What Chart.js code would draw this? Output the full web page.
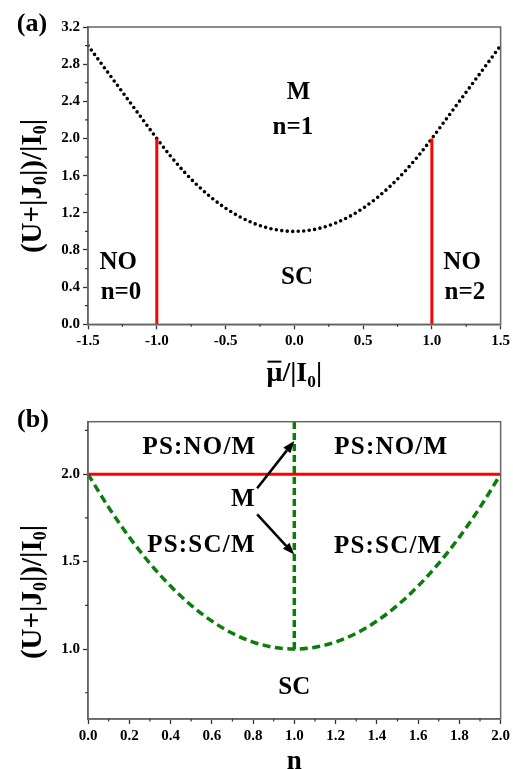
<!DOCTYPE html>
<html>
<head>
<meta charset="utf-8">
<script src="https://cdn.jsdelivr.net/npm/chart.js@4/dist/chart.umd.min.js"></script>
<style>
  html, body { margin: 0; padding: 0; background: #fff; }
  #wrap { position: relative; width: 513px; height: 769px; overflow: hidden; }
  #boxA { position: absolute; left: 0; top: 0; width: 513px; height: 400px; }
  #boxB { position: absolute; left: 0; top: 400px; width: 513px; height: 369px; }
</style>
</head>
<body>
<div id="wrap">
  <div id="boxA"><canvas id="chartA"></canvas></div>
  <div id="boxB"><canvas id="chartB"></canvas></div>
</div>
<script>
// ---- panel (a): boundary vs mu ----
const muA = [-1.5,-1.4,-1.3,-1.2,-1.1,-1.0,-0.9,-0.8,-0.7,-0.6,-0.5,-0.4,-0.3,-0.2,-0.1,0,
	0.1,0.2,0.3,0.4,0.5,0.6,0.7,0.8,0.9,1.0,1.1,1.2,1.3,1.4,1.5];
const boundaryA = [3.00,2.80,2.60,2.40,2.20,2.00,1.81,1.64,1.49,1.36,1.25,1.16,1.09,1.04,1.01,1.00,
	1.01,1.04,1.09,1.16,1.25,1.36,1.49,1.64,1.81,2.00,2.20,2.40,2.60,2.80,3.00];
const redLeftX = [-1, -1];
const redRightX = [1, 1];
const redAY = [0, 2];

const xTicksA = [-1.5, -1.0, -0.5, 0, 0.5, 1.0, 1.5];
const xMinorA = [-1.25, -0.75, -0.25, 0.25, 0.75, 1.25];
const yTicksA = [0, 0.4, 0.8, 1.2, 1.6, 2.0, 2.4, 2.8, 3.2];
const yMinorA = [0.2, 0.6, 1.0, 1.4, 1.8, 2.2, 2.6, 3.0];

// ---- panel (b): boundary vs n ----
const nB = [0,0.1,0.2,0.3,0.4,0.5,0.6,0.7,0.8,0.9,1.0,1.1,1.2,1.3,1.4,1.5,1.6,1.7,1.8,1.9,2.0];
const boundaryB = [2.00,1.81,1.64,1.49,1.36,1.25,1.16,1.09,1.04,1.01,1.00,1.01,1.04,1.09,1.16,1.25,1.36,1.49,1.64,1.81,2.00];
const redBX = [0, 2];
const redBY = [2, 2];
const greenVX = [1, 1];
const greenVY = [1.0, 2.3];

const xTicksB = [0, 0.2, 0.4, 0.6, 0.8, 1.0, 1.2, 1.4, 1.6, 1.8, 2.0];
const xMinorB = [0.1, 0.3, 0.5, 0.7, 0.9, 1.1, 1.3, 1.5, 1.7, 1.9];
const yTicksB = [1.0, 1.5, 2.0];
const yMinorB = [0.75, 1.25, 1.75, 2.25];

// region labels (text, x, y in data units)
const labelsA = [
	['M', 0.03, 2.49], ['n=1', -0.01, 2.12],
	['NO', -1.28, 0.67], ['n=0', -1.26, 0.34],
	['SC', 0.02, 0.50],
	['NO', 1.22, 0.67], ['n=2', 1.24, 0.34]
];
const labelsB = [
	['PS:NO/M', 0.54, 2.155], ['PS:NO/M', 1.47, 2.15],
	['M', 0.75, 1.853],
	['PS:SC/M', 0.55, 1.59], ['PS:SC/M', 1.455, 1.585],
	['SC', 1.0, 0.78]
];
const arrowsB = [
	[0.82, 1.92, 1.0, 2.19],
	[0.82, 1.77, 1.0, 1.54]
];

const FONT = '"Liberation Serif", "Times New Roman", serif';

function pts(xs, ys) {
	return xs.map(function (x, i) { return { x: x, y: ys[i] }; });
}

function drawRich(ctx, parts, cx, cy, size, angle) {
	ctx.save();
	ctx.translate(cx, cy);
	ctx.rotate(angle);
	ctx.fillStyle = '#000';
	ctx.textBaseline = 'alphabetic';
	ctx.textAlign = 'left';
	let total = 0;
	parts.forEach(function (p) {
		ctx.font = 'bold ' + (p.sub ? size * 0.62 : size) + 'px ' + FONT;
		p.w = ctx.measureText(p.t).width;
		total += p.w;
	});
	let x = -total / 2;
	const base = size * 0.33;
	parts.forEach(function (p) {
		ctx.font = 'bold ' + (p.sub ? size * 0.62 : size) + 'px ' + FONT;
		ctx.fillText(p.t, x, p.sub ? base + size * 0.2 : base);
		if (p.bar) {
			ctx.strokeStyle = '#000';
			ctx.lineWidth = 2;
			ctx.beginPath();
			ctx.moveTo(x + 1, base - size * 0.7);
			ctx.lineTo(x + p.w - 1, base - size * 0.7);
			ctx.stroke();
		}
		x += p.w;
	});
	ctx.restore();
}

const decor = {
	id: 'decor',
	afterDraw: function (chart, args, o) {
		const ctx = chart.ctx;
		const a = chart.chartArea;
		const xs = chart.scales.x, ys = chart.scales.y;
		ctx.save();
		// frame
		ctx.strokeStyle = '#666';
		ctx.lineWidth = 1.5;
		ctx.strokeRect(a.left, a.top, a.right - a.left, a.bottom - a.top);
		// minor ticks
		ctx.strokeStyle = '#333';
		ctx.lineWidth = 1.2;
		ctx.beginPath();
		o.xMinor.forEach(function (v) {
			const p = xs.getPixelForValue(v);
			ctx.moveTo(p, a.bottom); ctx.lineTo(p, a.bottom + 2.5);
		});
		o.yMinor.forEach(function (v) {
			const p = ys.getPixelForValue(v);
			ctx.moveTo(a.left, p); ctx.lineTo(a.left - 3, p);
		});
		ctx.stroke();
		// region labels
		ctx.fillStyle = '#000';
		ctx.textAlign = 'center';
		ctx.textBaseline = 'middle';
		ctx.font = 'bold ' + o.labelSize + 'px ' + FONT;
		o.labels.forEach(function (l) {
			if ('letterSpacing' in ctx) ctx.letterSpacing = (l[0].length > 3 ? o.spacing : 0) + 'px';
			ctx.fillText(l[0], xs.getPixelForValue(l[1]), ys.getPixelForValue(l[2]));
		});
		if ('letterSpacing' in ctx) ctx.letterSpacing = '0px';
		// arrows
		(o.arrows || []).forEach(function (r) {
			const x0 = xs.getPixelForValue(r[0]), y0 = ys.getPixelForValue(r[1]);
			const x1 = xs.getPixelForValue(r[2]), y1 = ys.getPixelForValue(r[3]);
			const ang = Math.atan2(y1 - y0, x1 - x0);
			const hl = 12, hw = 4.5;
			const bx = x1 - hl * Math.cos(ang), by = y1 - hl * Math.sin(ang);
			ctx.strokeStyle = '#000';
			ctx.lineWidth = 2.5;
			ctx.beginPath();
			ctx.moveTo(x0, y0); ctx.lineTo(bx, by);
			ctx.stroke();
			ctx.beginPath();
			ctx.moveTo(x1, y1);
			ctx.lineTo(bx + hw * Math.sin(ang), by - hw * Math.cos(ang));
			ctx.lineTo(bx - hw * Math.sin(ang), by + hw * Math.cos(ang));
			ctx.closePath();
			ctx.fillStyle = '#000';
			ctx.fill();
		});
		// panel tag
		ctx.font = 'bold 26px ' + FONT;
		ctx.textAlign = 'center';
		ctx.textBaseline = 'middle';
		ctx.fillText(o.tag, o.tagX, o.tagY);
		// axis titles
		drawRich(ctx, [{ t: '(U+|J' }, { t: '0', sub: true }, { t: '|)/|I' }, { t: '0', sub: true }, { t: '|' }],
			31, o.yTitleY, 29, -Math.PI / 2);
		drawRich(ctx, o.xTitle, (a.left + a.right) / 2, o.xTitleY, o.xTitleSize, 0);
		ctx.restore();
	}
};

function axis(min, max, ticks, fit) {
	return {
		type: 'linear',
		min: min,
		max: max,
		afterBuildTicks: function (s) { s.ticks = ticks.map(function (v) { return { value: v }; }); },
		afterFit: fit,
		ticks: {
			color: '#000',
			font: { family: FONT, size: 15, weight: 'bold' },
			padding: 3,
			autoSkip: false,
			maxRotation: 0,
			callback: function (v) { return Number(v).toFixed(1); }
		},
		grid: { drawOnChartArea: false, tickLength: 5, tickColor: '#333', tickWidth: 1.3 },
		border: { color: '#666', width: 1.5 }
	};
}

Chart.defaults.animation = false;

new Chart(document.getElementById('chartA'), {
	type: 'line',
	data: {
		datasets: [
			{ data: pts(redLeftX, redAY), borderColor: '#ff0000', borderWidth: 3, pointRadius: 0 },
			{ data: pts(redRightX, redAY), borderColor: '#ff0000', borderWidth: 3, pointRadius: 0 },
			{ data: pts(muA, boundaryA), borderColor: '#000', borderWidth: 3.6, pointRadius: 0,
				borderDash: [0, 5.5], borderCapStyle: 'round', cubicInterpolationMode: 'monotone' }
		]
	},
	options: {
		responsive: true,
		maintainAspectRatio: false,
		layout: { padding: { top: 27, right: 12.3, left: 0, bottom: 0 } },
		plugins: {
			legend: { display: false },
			tooltip: { enabled: false },
			decor: {
				xMinor: xMinorA, yMinor: yMinorA, labels: labelsA, labelSize: 25, spacing: 0,
				tag: '(a)', tagX: 32, tagY: 24, yTitleY: 186,
				xTitle: [{ t: 'μ', bar: true }, { t: '/|I' }, { t: '0', sub: true }, { t: '|' }],
				xTitleY: 372, xTitleSize: 28
			}
		},
		scales: {
			x: axis(-1.5, 1.5, xTicksA, function (s) { s.height = 75.7; }),
			y: axis(0, 3.2, yTicksA, function (s) { s.width = 88; })
		}
	},
	plugins: [decor]
});

new Chart(document.getElementById('chartB'), {
	type: 'line',
	data: {
		datasets: [
			{ data: pts(redBX, redBY), borderColor: '#ff0000', borderWidth: 3, pointRadius: 0 },
			{ data: pts(greenVX, greenVY), borderColor: '#0a7d0a', borderWidth: 3.5, pointRadius: 0,
				borderDash: [7, 4] },
			{ data: pts(nB, boundaryB), borderColor: '#0a7d0a', borderWidth: 3.5, pointRadius: 0,
				borderDash: [8, 4.5], cubicInterpolationMode: 'monotone' }
		]
	},
	options: {
		responsive: true,
		maintainAspectRatio: false,
		layout: { padding: { top: 21.7, right: 12.3, left: 0, bottom: 0 } },
		plugins: {
			legend: { display: false },
			tooltip: { enabled: false },
			decor: {
				xMinor: xMinorB, yMinor: yMinorB, labels: labelsB, labelSize: 25, spacing: 1.2,
				arrows: arrowsB,
				tag: '(b)', tagX: 33, tagY: 20, yTitleY: 192,
				xTitle: [{ t: 'n' }],
				xTitleY: 360, xTitleSize: 27
			}
		},
		scales: {
			x: axis(0, 2, xTicksB, function (s) { s.height = 50; }),
			y: axis(0.6, 2.3, yTicksB, function (s) { s.width = 88; })
		}
	},
	plugins: [decor]
});
</script>
</body>
</html>
